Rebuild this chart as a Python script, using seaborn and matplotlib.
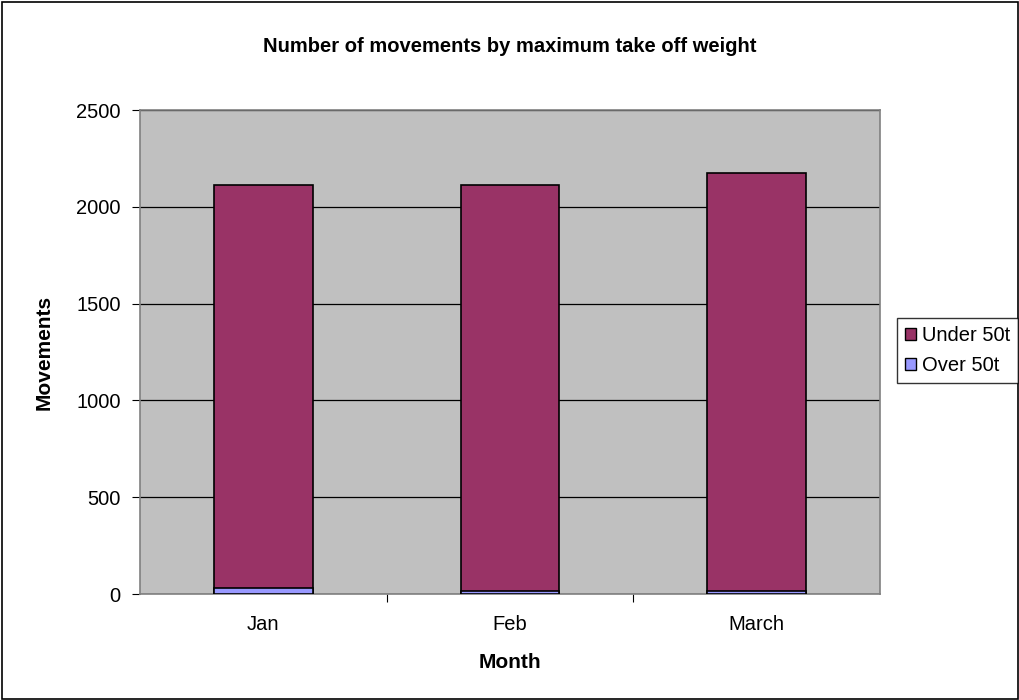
import matplotlib
matplotlib.use("Agg")
import matplotlib.pyplot as plt
import numpy as np
import pandas as pd
import seaborn as sns
from matplotlib.patches import Patch, Rectangle

months = ["Jan", "Feb", "March"]
under_50t = [2085, 2098, 2158]
over_50t = [30, 17, 17]

sns.set_style("white")
plt.rcParams["font.family"] = ["Liberation Sans", "DejaVu Sans"]
plt.rcParams["text.color"] = "black"
plt.rcParams["axes.labelcolor"] = "black"
plt.rcParams["xtick.color"] = "black"
plt.rcParams["ytick.color"] = "black"

df = pd.DataFrame({"Month": months, "Under 50t": under_50t, "Over 50t": over_50t})
df["Total"] = df["Under 50t"] + df["Over 50t"]

fig = plt.figure(figsize=(10.2, 7), dpi=100)
fig.patches.append(Rectangle((0.002, 0.002), 0.996, 0.995, transform=fig.transFigure,
                             fill=False, edgecolor="black", linewidth=1.2))
ax = fig.add_axes([0.1373, 0.1514, 0.7255, 0.6914])
ax.set_facecolor("#C0C0C0")

# stacked: total bar first, then the Over 50t part drawn over its base
sns.barplot(data=df, x="Month", y="Total", color="#993366", width=0.4,
            edgecolor="black", linewidth=1.2, saturation=1, ax=ax, zorder=3)
sns.barplot(data=df, x="Month", y="Over 50t", color="#9999FF", width=0.4,
            edgecolor="black", linewidth=1.2, saturation=1, ax=ax, zorder=4)

ax.set_ylim(0, 2500)
ax.set_xlim(-0.5, 2.5)
ax.set_yticks(np.arange(0, 2501, 500))
ax.yaxis.grid(True, color="black", linewidth=0.9)
ax.set_axisbelow(True)
for s in ["top", "right", "left", "bottom"]:
    ax.spines[s].set_color("#808080")
    ax.spines[s].set_linewidth(1.2)

# ticks sit between categories on the x axis
ax.set_xticks([0.5, 1.5], minor=False)
ax.set_xticklabels([])
ax.set_xticks([0, 1, 2], minor=True)
ax.set_xticklabels(months, minor=True, fontsize=14.5)
ax.tick_params(axis="x", which="major", direction="out", length=6, color="black")
ax.tick_params(axis="x", which="minor", length=0, pad=15)
ax.tick_params(axis="y", direction="out", length=6, color="black", labelsize=14.5, pad=8)
ax.tick_params(left=True, bottom=True)

ax.set_xlabel("Month", fontsize=15, fontweight="bold", labelpad=14)
ax.set_ylabel("Movements", fontsize=15, fontweight="bold", labelpad=16)
fig.text(0.5, 0.934, "Number of movements by maximum take off weight",
         ha="center", va="center", fontsize=14.5, fontweight="bold")

handles = [Patch(facecolor="#993366", edgecolor="black", label="Under 50t"),
           Patch(facecolor="#9999FF", edgecolor="black", label="Over 50t")]
leg = fig.legend(handles=handles, loc="center left", bbox_to_anchor=(0.879, 0.499),
                 frameon=True, fancybox=False, fontsize=14.5, handlelength=0.55,
                 handleheight=0.55, handletextpad=0.3, borderpad=0.4, labelspacing=0.55,
                 borderaxespad=0)
leg.get_frame().set_edgecolor("black")
leg.get_frame().set_linewidth(1.0)

fig.savefig("out.png", dpi=100)
